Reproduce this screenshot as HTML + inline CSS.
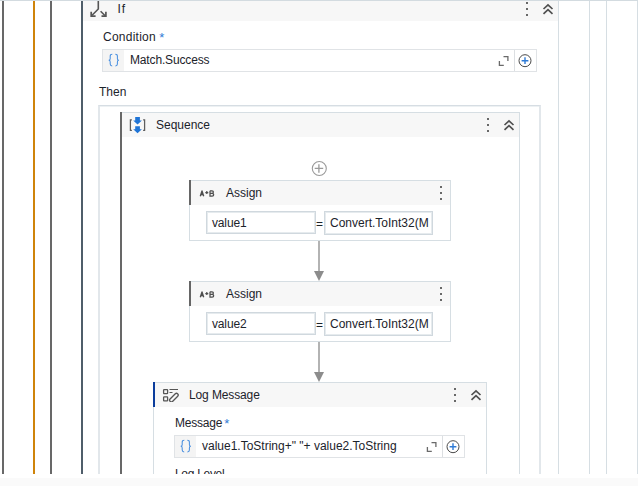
<!DOCTYPE html>
<html><head><meta charset="utf-8">
<style>
*{margin:0;padding:0;box-sizing:border-box}
html,body{width:638px;height:486px;overflow:hidden;background:#fff;font-family:"Liberation Sans",sans-serif;font-size:12px;color:#1c232b}
.a{position:absolute}
#view{position:absolute;left:0;top:0;width:638px;height:474px;overflow:hidden;background:#fff}
.vl{position:absolute;top:1px;height:473px}
.lt{background:#d6dee3}
.hdr{position:absolute;background:#f7f7f7}
.txt{position:absolute;white-space:pre;line-height:14px}
.dots{position:absolute;width:2px}
.dots i{position:absolute;left:0;width:2px;height:2px;background:#686868}
.box{position:absolute;border:1px solid #e0e3e6;background:#fff}
.inp{position:absolute;border:1px solid #d0d8de;box-shadow:inset 0 0 0 1px #e6ebee;background:#fff}
</style></head><body>
<div id="view">
  <!-- top line -->
  <div class="a" style="left:0;top:0;width:638px;height:1px;background:#d3dbe0"></div>
  <!-- left vertical lines -->
  <div class="vl" style="left:2px;width:2px;background:#686868"></div>
  <div class="vl" style="left:33px;width:2px;background:#cf840b"></div>
  <div class="vl" style="left:50px;width:2px;background:#686868"></div>
  <div class="vl" style="left:81px;width:2px;background:#4f5e6a"></div>
  <!-- right vertical lines -->
  <div class="vl lt" style="left:558px;width:1px"></div>
  <div class="vl lt" style="left:589px;width:1px"></div>
  <div class="vl lt" style="left:606px;width:1px"></div>
  <div class="vl lt" style="left:637px;width:1px"></div>

  <!-- If header -->
  <div class="hdr" style="left:83px;top:1px;width:475px;height:20px"></div>
  <svg class="a" style="left:88px;top:1px" width="22" height="18" viewBox="0 0 22 18">
    <path d="M10.3 -1 V8 L3.8 14.5" stroke="#555" stroke-width="1.6" fill="none"/>
    <path d="M3.2 10.8 V15.2 H7.6" stroke="#555" stroke-width="1.7" fill="none"/>
    <path d="M12.6 10.2 L17.4 15" stroke="#555" stroke-width="1.6" fill="none"/>
    <path d="M17.9 10.8 V15.2 H13.5" stroke="#555" stroke-width="1.7" fill="none"/>
  </svg>
  <div class="txt" style="left:117.5px;top:2px;letter-spacing:0.9px">If</div>
  <div class="dots" style="left:526px;top:2px"><i style="top:0"></i><i style="top:6px"></i><i style="top:12px"></i></div>
  <svg class="a" style="left:542px;top:3px" width="12" height="12" viewBox="0 0 12 12">
    <path d="M1.5 6 L6 1.8 L10.5 6 M1.5 10.8 L6 6.6 L10.5 10.8" stroke="#505050" stroke-width="1.7" fill="none"/>
  </svg>

  <!-- Condition -->
  <div class="txt" style="left:103px;top:30px;letter-spacing:0.25px">Condition</div><div class="txt" style="left:159.3px;top:30.6px;font-size:13px;color:#2f7bd6">*</div>
  <div class="box" style="left:102px;top:49px;width:435px;height:23px"></div>
  <div class="a" style="left:103px;top:50px;width:21px;height:21px;background:#f4f4f4"></div>
  <svg class="a" style="left:104px;top:50px" width="20" height="20" viewBox="0 0 20 20"><path d="M8.3 4.3 C6.7 4.3 6.2 4.8 6.2 6.2 V8.7 C6.2 9.8 5.7 10.3 4.7 10.3 C5.7 10.3 6.2 10.8 6.2 11.9 V14.1 C6.2 15.5 6.7 16 8.2 16 M11.3 4.3 C12.9 4.3 13.4 4.8 13.4 6.2 V8.7 C13.4 9.8 13.9 10.3 14.9 10.3 C13.9 10.3 13.4 10.8 13.4 11.9 V14.1 C13.4 15.5 12.9 16 11.4 16" stroke="#4a90e0" stroke-width="1.05" fill="none"/></svg>
  <div class="txt" style="left:130px;top:53px;letter-spacing:-0.15px">Match.Success</div>
  <div class="a" style="left:514px;top:50px;width:1px;height:21px;background:#dcdfe2"></div>
  <svg class="a" style="left:497px;top:55px" width="12" height="12" viewBox="0 0 12 12">
    <path d="M6.5 1.6 H10.9 V6 M2.4 6 V10.4 H6.8" stroke="#6a6a6a" stroke-width="1.3" fill="none"/>
  </svg>
  <svg class="a" style="left:518px;top:54px" width="14" height="14" viewBox="0 0 14 14">
    <circle cx="7" cy="6.7" r="6" stroke="#4a4a4a" stroke-width="1" fill="none"/>
    <path d="M3.6 6.7 H10.4 M7 3.3 V10.1" stroke="#2f7bd6" stroke-width="1.4"/>
  </svg>


  <!-- Then -->
  <div class="txt" style="left:99px;top:85px">Then</div>
  <div class="a" style="left:98px;top:105px;width:443px;height:400px;border:2px solid #e2e7eb;border-top:1px solid #d6dde3;box-shadow:inset 0 1px 0 #edf1f3"></div>

  <!-- Sequence -->
  <div class="a" style="left:120px;top:112px;width:400px;height:400px;border-top:1px solid #d6dee3;border-right:1px solid #d6dee3"></div>
  <div class="a" style="left:120px;top:112px;width:2px;height:400px;background:#686868"></div>
  <div class="hdr" style="left:122px;top:113px;width:397px;height:24px"></div>
  <div class="txt" style="left:156px;top:118px">Sequence</div>
  <div class="dots" style="left:487px;top:118px"><i style="top:0"></i><i style="top:6px"></i><i style="top:12px"></i></div>


  <svg class="a" style="left:128px;top:116px" width="20" height="18" viewBox="0 0 20 18">
    <path d="M3.9 3.8 H2.4 V14.4 H3.9" stroke="#5e5e5e" stroke-width="1.25" fill="none"/>
    <path d="M15.1 3.8 H16.6 V14.4 H15.1" stroke="#5e5e5e" stroke-width="1.25" fill="none"/>
    <path d="M7.2 1 H11.9 V4.4 H13.9 L9.55 8.4 L5.2 4.4 H7.2 Z" fill="#1f74d6"/>
    <path d="M7.2 10.2 H11.9 V13.2 H13.9 L9.55 17.2 L5.2 13.2 H7.2 Z" fill="#1f74d6"/>
  </svg>
  <svg class="a" style="left:503px;top:119px" width="12" height="12" viewBox="0 0 12 12">
    <path d="M1.5 6 L6 1.8 L10.5 6 M1.5 10.8 L6 6.6 L10.5 10.8" stroke="#505050" stroke-width="1.7" fill="none"/>
  </svg>
  <svg class="a" style="left:311px;top:160px" width="17" height="17" viewBox="0 0 17 17">
    <circle cx="8.3" cy="8.5" r="7" stroke="#9a9a9a" stroke-width="1.1" fill="none"/>
    <path d="M3.7 8.4 H12.2 M7.9 4.2 V12.7" stroke="#9a9a9a" stroke-width="1.3"/>
  </svg>
  <!-- Assign 1 -->
  <div class="a" style="left:189px;top:180px;width:262px;height:61px;border:1px solid #d6dee3"></div>
  <div class="hdr" style="left:190px;top:181px;width:260px;height:24px"></div>
  <div class="a" style="left:189px;top:180px;width:2px;height:25px;background:#666"></div>
  <div class="txt" style="left:226px;top:186px">Assign</div>
  <svg class="a" style="left:198px;top:188px" width="18" height="10" viewBox="0 0 18 10">
    <path d="M2.3 8.3 L4 3 L5.7 8.3 M2.9 6.6 H5.1" stroke="#4e4e4e" stroke-width="1.35" fill="none" stroke-linejoin="round"/>
    <path d="M7.3 4.6 H10.3 M8.8 3.1 V6.1" stroke="#4e4e4e" stroke-width="1.2"/>
    <path d="M12 2.8 H14 Q15.4 2.8 15.4 4.1 Q15.4 5.3 14 5.3 H12 M14 5.3 Q15.7 5.3 15.7 6.7 Q15.7 8.1 14.1 8.1 H12 V2.8" stroke="#4e4e4e" stroke-width="1.25" fill="none"/>
  </svg>
  <div class="dots" style="left:440px;top:186px"><i style="top:0"></i><i style="top:6px"></i><i style="top:12px"></i></div>
  <div class="a" style="left:318px;top:241px;width:2px;height:30px;background:#b3b3b3"></div>
  <svg class="a" style="left:314px;top:271px" width="10" height="10" viewBox="0 0 10 10"><path d="M0 0 H10 L5 10 Z" fill="#8c8c8c"/></svg>

  <div class="inp" style="left:206px;top:211px;width:110px;height:23px"></div>
  <div class="txt" style="left:212px;top:216px;letter-spacing:-0.15px">value1</div>
  <div class="txt" style="left:316px;top:217px">=</div>
  <div class="inp" style="left:324px;top:211px;width:109px;height:24px"></div>
  <div class="txt" style="left:330px;top:216px">Convert.ToInt32(M</div>

  <!-- Assign 2 -->
  <div class="a" style="left:189px;top:281px;width:262px;height:61px;border:1px solid #d6dee3"></div>
  <div class="hdr" style="left:190px;top:282px;width:260px;height:24px"></div>
  <div class="a" style="left:189px;top:281px;width:2px;height:25px;background:#666"></div>
  <div class="txt" style="left:226px;top:287px">Assign</div>
  <svg class="a" style="left:198px;top:289px" width="18" height="10" viewBox="0 0 18 10">
    <path d="M2.3 8.3 L4 3 L5.7 8.3 M2.9 6.6 H5.1" stroke="#4e4e4e" stroke-width="1.35" fill="none" stroke-linejoin="round"/>
    <path d="M7.3 4.6 H10.3 M8.8 3.1 V6.1" stroke="#4e4e4e" stroke-width="1.2"/>
    <path d="M12 2.8 H14 Q15.4 2.8 15.4 4.1 Q15.4 5.3 14 5.3 H12 M14 5.3 Q15.7 5.3 15.7 6.7 Q15.7 8.1 14.1 8.1 H12 V2.8" stroke="#4e4e4e" stroke-width="1.25" fill="none"/>
  </svg>
  <div class="dots" style="left:440px;top:287px"><i style="top:0"></i><i style="top:6px"></i><i style="top:12px"></i></div>
  <div class="a" style="left:318px;top:342px;width:2px;height:30px;background:#b3b3b3"></div>
  <svg class="a" style="left:314px;top:372px" width="10" height="10" viewBox="0 0 10 10"><path d="M0 0 H10 L5 10 Z" fill="#8c8c8c"/></svg>

  <div class="inp" style="left:206px;top:312px;width:110px;height:23px"></div>
  <div class="txt" style="left:212px;top:317px;letter-spacing:-0.15px">value2</div>
  <div class="txt" style="left:316px;top:318px">=</div>
  <div class="inp" style="left:324px;top:312px;width:109px;height:24px"></div>
  <div class="txt" style="left:330px;top:317px">Convert.ToInt32(M</div>

  <!-- Log Message -->
  <div class="a" style="left:153px;top:382px;width:334px;height:200px;border:1px solid #d6dee3"></div>
  <div class="hdr" style="left:154px;top:383px;width:332px;height:24px"></div>
  <div class="a" style="left:153px;top:382px;width:2px;height:25px;background:#0b3d9c"></div>
  <div class="txt" style="left:189px;top:388px;letter-spacing:-0.12px">Log Message</div>
  <svg class="a" style="left:162px;top:388px" width="18" height="14" viewBox="0 0 18 14">
    <rect x="1.6" y="1.6" width="4" height="4" rx="0.6" stroke="#555" stroke-width="1.3" fill="none"/>
    <rect x="1.6" y="8.9" width="4" height="4" rx="0.6" stroke="#555" stroke-width="1.3" fill="none"/>
    <path d="M7.5 1.5 H16 M7.5 4.5 H10.5" stroke="#555" stroke-width="1.1"/>
    <rect x="6.6" y="7.9" width="10.6" height="3.4" rx="1.6" transform="rotate(-45 11.9 9.6)" stroke="#555" stroke-width="1.3" fill="none"/>
  </svg>
  <div class="dots" style="left:454px;top:388px"><i style="top:0"></i><i style="top:6px"></i><i style="top:12px"></i></div>
  <svg class="a" style="left:470px;top:389px" width="12" height="12" viewBox="0 0 12 12">
    <path d="M1.5 6 L6 1.8 L10.5 6 M1.5 10.8 L6 6.6 L10.5 10.8" stroke="#505050" stroke-width="1.7" fill="none"/>
  </svg>

  <div class="txt" style="left:175px;top:416px;letter-spacing:-0.2px">Message</div><div class="txt" style="left:224.3px;top:416.6px;font-size:13px;color:#2f7bd6">*</div>
  <div class="box" style="left:174px;top:435px;width:291px;height:23px"></div>
  <div class="a" style="left:175px;top:436px;width:21px;height:21px;background:#f4f4f4"></div>
  <svg class="a" style="left:176px;top:436px" width="20" height="20" viewBox="0 0 20 20"><path d="M8.3 4.3 C6.7 4.3 6.2 4.8 6.2 6.2 V8.7 C6.2 9.8 5.7 10.3 4.7 10.3 C5.7 10.3 6.2 10.8 6.2 11.9 V14.1 C6.2 15.5 6.7 16 8.2 16 M11.3 4.3 C12.9 4.3 13.4 4.8 13.4 6.2 V8.7 C13.4 9.8 13.9 10.3 14.9 10.3 C13.9 10.3 13.4 10.8 13.4 11.9 V14.1 C13.4 15.5 12.9 16 11.4 16" stroke="#4a90e0" stroke-width="1.05" fill="none"/></svg>
  <div class="txt" style="left:202px;top:439px">value1.ToString+" "+ value2.ToString</div>
  <div class="a" style="left:442px;top:436px;width:1px;height:21px;background:#dcdfe2"></div>
  <svg class="a" style="left:425px;top:441px" width="12" height="12" viewBox="0 0 12 12">
    <path d="M6.5 1.6 H10.9 V6 M2.4 6 V10.4 H6.8" stroke="#6a6a6a" stroke-width="1.3" fill="none"/>
  </svg>
  <svg class="a" style="left:446px;top:440px" width="14" height="14" viewBox="0 0 14 14">
    <circle cx="7" cy="6.7" r="6" stroke="#4a4a4a" stroke-width="1" fill="none"/>
    <path d="M3.6 6.7 H10.4 M7 3.3 V10.1" stroke="#2f7bd6" stroke-width="1.4"/>
  </svg>

  <div class="txt" style="left:175px;top:467px;letter-spacing:-0.3px">Log Level</div>
</div>
<div class="a" style="left:0;top:478px;width:638px;height:8px;background:#fafafa"></div>
</body></html>
